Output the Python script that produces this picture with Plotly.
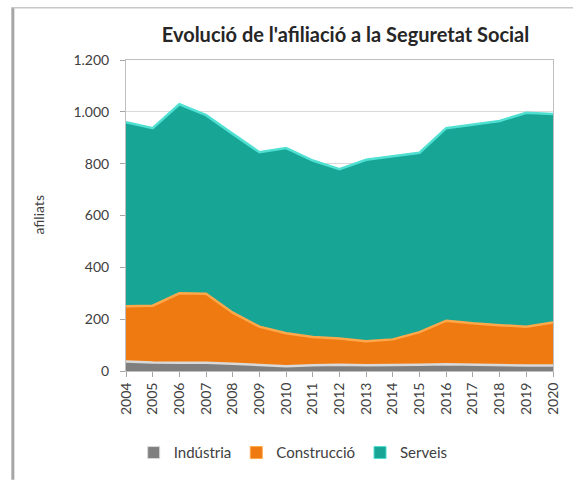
import plotly.graph_objects as go

years = list(range(2004, 2021))
industria = [37, 33, 32, 32, 28, 22, 18, 22, 24, 22, 22, 24, 26, 24, 24, 21, 21]
construccio = [213, 219, 268, 266, 197, 149, 128, 109, 101, 93, 100, 126, 168, 160, 153, 150, 166]
serveis = [710, 685, 729, 689, 690, 673, 714, 681, 654, 700, 707, 692, 743, 766, 788, 825, 805]
y_ticks = [0, 200, 400, 600, 800, 1000, 1200]
y_tick_labels = ["0", "200", "400", "600", "800", "1.000", "1.200"]

FONT = "Lato, Calibri, Carlito, sans-serif"
TXT = "#404040"

fig = go.Figure()
series = [
    ("Indústria", industria, "#7f7f7f", "#d9d9d9"),
    ("Construcció", construccio, "#f07a12", "#ffa84a"),
    ("Serveis", serveis, "#17a596", "#4fe0d2"),
]
for name, vals, fill, edge in series:
    fig.add_trace(go.Scatter(
        x=years, y=vals, name=name, mode="lines",
        stackgroup="one", fillcolor=fill,
        line=dict(color=edge, width=2.5, shape="linear"),
        showlegend=False, legendgroup=name,
        hoverinfo="x+y+name",
    ))
# legend entries with square markers
for name, vals, fill, edge in series:
    fig.add_trace(go.Bar(
        x=[None], y=[None], name=name, legendgroup=name,
        marker=dict(color=fill, line=dict(color=edge, width=1)),
        showlegend=True,
    ))

fig.update_layout(
    width=573, height=481,
    paper_bgcolor="white", plot_bgcolor="white",
    margin=dict(l=126, r=20, t=60, b=101),
    title=dict(text="<b>Evolució de l'afiliació a la Seguretat Social</b>",
               x=0.603, xanchor="center", y=0.928, yanchor="middle",
               font=dict(family=FONT, size=20, color="#262626")),
    font=dict(family=FONT, size=14, color=TXT),
    legend=dict(orientation="h", x=0.018, xanchor="left", y=-0.21, yanchor="top",
                font=dict(family=FONT, size=15, color=TXT),
                traceorder="normal"),
    showlegend=True,
    annotations=[
        dict(text="afiliats", xref="paper", yref="paper", x=-0.206, y=0.5,
             xanchor="center", yanchor="middle", textangle=-90, showarrow=False,
             font=dict(family=FONT, size=14, color=TXT)),
    ],
    shapes=[
        dict(type="line", xref="paper", yref="paper", x0=-0.265, x1=-0.265, y0=-0.35, y1=1.17,
             line=dict(color="#a6a6a6", width=3)),
        dict(type="line", xref="paper", yref="paper", x0=-0.265, x1=1.05, y0=1.168, y1=1.168,
             line=dict(color="#c8c8c8", width=1.5)),
    ],
)

fig.update_xaxes(
    range=[2004, 2020], tickmode="array", tickvals=years,
    ticktext=[str(y) for y in years], tickangle=-90,
    ticks="outside", ticklen=5, tickcolor="#a6a6a6",
    showline=True, linecolor="#bfbfbf", mirror=True,
    showgrid=False, zeroline=False, automargin=False,
    tickfont=dict(family=FONT, size=14, color=TXT),
)
fig.update_yaxes(
    range=[0, 1200], tickmode="array", tickvals=y_ticks, ticktext=y_tick_labels,
    ticks="outside", ticklen=5, tickcolor="#a6a6a6", ticklabelstandoff=8,
    showline=True, linecolor="#bfbfbf", mirror=True,
    showgrid=True, gridcolor="#d9d9d9", zeroline=False, automargin=False,
    tickfont=dict(family=FONT, size=14, color=TXT),
)

fig.write_html("out.html", config={"displayModeBar": False},
               post_script="document.body.style.margin='0';document.body.style.overflow='hidden';")
